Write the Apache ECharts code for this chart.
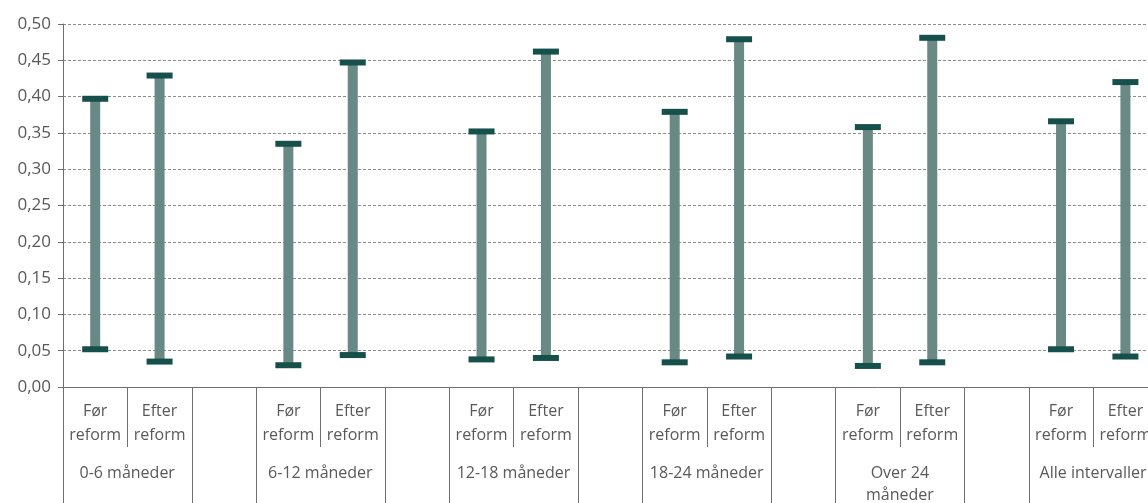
<!DOCTYPE html>
<html>
<head>
<meta charset="utf-8">
<script src="https://cdn.jsdelivr.net/npm/echarts@6/dist/echarts.min.js"></script>
<style>
  html, body { margin: 0; padding: 0; background: #ffffff; overflow: hidden; }
  #chart { width: 1148px; height: 503px; }
</style>
</head>
<body>
<div id="chart"></div>
<script>
// Interval groups and the two periods shown within each group
const groups = ['0-6 måneder', '6-12 måneder', '12-18 måneder', '18-24 måneder', 'Over 24\nmåneder', 'Alle intervaller'];
const periods = ['Før\nreform', 'Efter\nreform'];

// Low / high ends of each range
const lowBefore  = [0.052, 0.030, 0.038, 0.034, 0.029, 0.052];
const highBefore = [0.397, 0.335, 0.352, 0.379, 0.358, 0.366];
const lowAfter   = [0.035, 0.044, 0.040, 0.042, 0.034, 0.042];
const highAfter  = [0.429, 0.447, 0.462, 0.479, 0.481, 0.420];

// Y axis ticks
const yTicks = [0, 0.05, 0.10, 0.15, 0.20, 0.25, 0.30, 0.35, 0.40, 0.45, 0.50];

// Each group occupies three slots: before, after, and an empty spacer
const periodLabels = [];
const groupLabels = [];
const ranges = [];
groups.forEach((g, i) => {
  periodLabels.push(periods[0], periods[1], '');
  groupLabels.push(g, '', '');
  ranges.push([i * 3, lowBefore[i], highBefore[i]]);
  ranges.push([i * 3 + 1, lowAfter[i], highAfter[i]]);
});

const FONT = '"Open Sans", "DejaVu Sans", sans-serif';
const TEXT = '#595959';
const LINE = '#6f6f6f';

const chart = echarts.init(document.getElementById('chart'), null, { renderer: 'canvas' });

chart.setOption({
  animation: false,
  backgroundColor: '#ffffff',
  // the last group runs past the right edge of the canvas
  grid: { left: 63, top: 24, width: 1159, height: 363, containLabel: false, outerBoundsMode: 'none' },
  xAxis: [
    {
      type: 'category',
      data: periodLabels,
      position: 'bottom',
      boundaryGap: true,
      axisLine: { show: true, lineStyle: { color: LINE, width: 1 } },
      axisTick: {
        show: true, length: 60, alignWithLabel: false,
        interval: (idx) => idx % 3 === 1,
        lineStyle: { color: LINE, width: 1 }
      },
      axisLabel: {
        interval: 0, margin: 12, color: TEXT, fontFamily: FONT, fontSize: 16,
        lineHeight: 24, align: 'center', verticalAlign: 'top'
      },
      splitLine: { show: false }
    },
    {
      type: 'category',
      data: groupLabels,
      position: 'bottom',
      offset: 0,
      boundaryGap: true,
      axisLine: { show: false },
      axisTick: {
        show: true, length: 130, alignWithLabel: false,
        interval: (idx) => idx % 3 !== 1,
        lineStyle: { color: LINE, width: 1 }
      },
      axisLabel: {
        interval: 0, margin: 75, color: TEXT, fontFamily: FONT, fontSize: 16,
        lineHeight: 22, align: 'center', verticalAlign: 'top',
        padding: [0, 0, 0, 64]
      },
      splitLine: { show: false }
    }
  ],
  yAxis: {
    type: 'value',
    min: yTicks[0],
    max: yTicks[yTicks.length - 1],
    interval: 0.05,
    axisLine: { show: true, lineStyle: { color: LINE, width: 1 } },
    axisTick: { show: true, length: 5, lineStyle: { color: LINE } },
    axisLabel: {
      margin: 12, color: TEXT, fontFamily: FONT, fontSize: 17,
      formatter: (v) => v.toFixed(2).replace('.', ',')
    },
    splitLine: { show: true, lineStyle: { color: '#8c8c8c', width: 1, type: [3, 2] } }
  },
  series: [{
    type: 'custom',
    xAxisIndex: 0,
    data: ranges,
    encode: { x: 0, y: [1, 2] },
    renderItem: (params, api) => {
      const x = api.value(0);
      const pLo = api.coord([x, api.value(1)]);
      const pHi = api.coord([x, api.value(2)]);
      const barW = 10, capW = 26, capH = 6;
      return {
        type: 'group',
        children: [
          {
            type: 'rect',
            shape: { x: pHi[0] - barW / 2, y: pHi[1], width: barW, height: pLo[1] - pHi[1] },
            style: { fill: '#698985' }
          },
          {
            type: 'rect',
            shape: { x: pHi[0] - capW / 2, y: pHi[1] - capH / 2, width: capW, height: capH },
            style: { fill: '#16504b' }
          },
          {
            type: 'rect',
            shape: { x: pLo[0] - capW / 2, y: pLo[1] - capH / 2, width: capW, height: capH },
            style: { fill: '#16504b' }
          }
        ]
      };
    }
  }]
});
</script>
</body>
</html>
